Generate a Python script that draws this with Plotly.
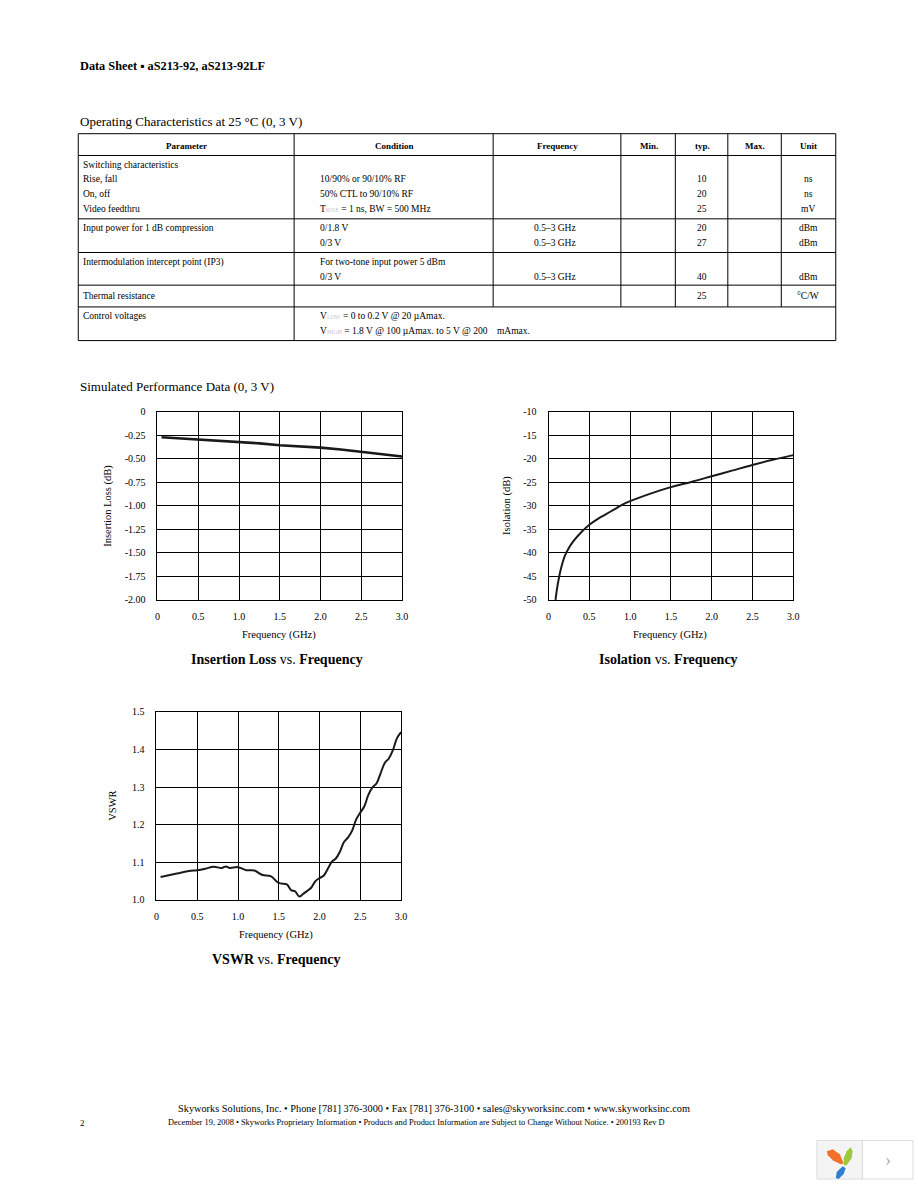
import plotly.graph_objects as go

W, H = 918, 1188
FONT = "Liberation Serif, Times New Roman, serif"


def px(x):
    return x / W


def py(y):
    return 1 - y / H


# ---------------- data ----------------
freq_ticks = [0, 0.5, 1.0, 1.5, 2.0, 2.5, 3.0]
freq_ticktext = ["0", "0.5", "1.0", "1.5", "2.0", "2.5", "3.0"]

il_freq = [0.05, 0.25, 0.5, 0.75, 1.0, 1.25, 1.5, 1.75, 2.0, 2.25, 2.5, 2.75, 3.0]
il_db = [-0.27, -0.28, -0.29, -0.305, -0.32, -0.335, -0.355, -0.365, -0.38, -0.40, -0.425, -0.445, -0.475]
il_ticks = [0, -0.25, -0.5, -0.75, -1.0, -1.25, -1.5, -1.75, -2.0]
il_ticktext = ["0", "-0.25", "-0.50", "-0.75", "-1.00", "-1.25", "-1.50", "-1.75", "-2.00"]

iso_freq = [0.085, 0.1, 0.13, 0.16, 0.2, 0.25, 0.3, 0.4, 0.5, 0.6, 0.7, 0.8, 0.9, 1.0,
            1.25, 1.5, 1.75, 2.0, 2.25, 2.5, 2.75, 3.0]
iso_db = [-50, -48.0, -45, -42.8, -40.6, -38.9, -37.6, -35.6, -34.0, -32.8, -31.8, -30.8, -29.8, -29.0,
          -27.4, -26.0, -24.9, -23.7, -22.5, -21.3, -20.2, -19.2]
iso_ticks = [-10, -15, -20, -25, -30, -35, -40, -45, -50]
iso_ticktext = ["-10", "-15", "-20", "-25", "-30", "-35", "-40", "-45", "-50"]

vswr_freq = [0.05, 0.25, 0.4, 0.5, 0.6, 0.7, 0.8, 0.85, 0.9, 1.0, 1.1, 1.2, 1.3, 1.4, 1.5, 1.6,
             1.65, 1.7, 1.75, 1.8, 1.85, 1.9, 1.95, 2.0, 2.05, 2.1, 2.15, 2.2, 2.25, 2.3, 2.35,
             2.4, 2.45, 2.5, 2.55, 2.6, 2.65, 2.7, 2.75, 2.8, 2.85, 2.9, 2.95, 3.0]
vswr_val = [1.061, 1.07, 1.077, 1.079, 1.083, 1.088, 1.085, 1.089, 1.085, 1.087, 1.079, 1.078,
            1.066, 1.063, 1.045, 1.041, 1.026, 1.023, 1.009, 1.016, 1.024, 1.033, 1.05, 1.058,
            1.064, 1.082, 1.101, 1.11, 1.128, 1.154, 1.166, 1.184, 1.214, 1.232, 1.249, 1.28,
            1.299, 1.31, 1.337, 1.364, 1.376, 1.398, 1.43, 1.446]
vswr_ticks = [1.0, 1.1, 1.2, 1.3, 1.4, 1.5]
vswr_ticktext = ["1.0", "1.1", "1.2", "1.3", "1.4", "1.5"]

# ---------------- table content ----------------
table_headers = ["Parameter", "Condition", "Frequency", "Min.", "typ.", "Max.", "Unit"]
param_lines = ["Switching characteristics", "Rise, fall", "On, off", "Video feedthru",
               "Input power for 1 dB compression", "",
               "Intermodulation intercept point (IP3)", "",
               "Thermal resistance", "Control voltages", ""]
cond_lines = ["", "10/90% or 90/10% RF", "50% CTL to 90/10% RF",
              "T<span style='font-size:6px;color:#c8c8c8'>RISE</span> = 1 ns, BW = 500 MHz",
              "0/1.8 V", "0/3 V",
              "For two-tone input power 5 dBm", "0/3 V",
              "",
              "V<span style='font-size:6px;color:#c8c8c8'>LOW</span> = 0 to 0.2 V @ 20 \u00b5Amax.",
              "V<span style='font-size:6px;color:#c8c8c8'>HIGH</span> = 1.8 V @ 100 \u00b5Amax. to 5 V @ 200&nbsp;&nbsp;&nbsp;&nbsp;mAmax."]
freq_lines = ["", "", "", "", "0.5\u20133 GHz", "0.5\u20133 GHz", "", "0.5\u20133 GHz", "", "", ""]
typ_lines = ["", "10", "20", "25", "20", "27", "", "40", "25", "", ""]
unit_lines = ["", "ns", "ns", "mV", "dBm", "dBm", "", "dBm", "\u00b0C/W", "", ""]
line_y = [161, 175, 190, 205, 224, 239, 259, 274, 293, 313, 328]

fig = go.Figure()

axis_font = dict(family=FONT, size=10, color="black")


def xaxis_cfg(x0, x1, anchor):
    return dict(domain=[px(x0), px(x1)], anchor=anchor, range=[0, 3],
                tickvals=freq_ticks, ticktext=freq_ticktext,
                showline=True, mirror=True, linecolor="black", linewidth=1,
                showgrid=True, gridcolor="black", gridwidth=1, zeroline=False,
                ticks="", tickfont=axis_font, ticklabelstandoff=7, fixedrange=True)


def yaxis_cfg(y0, y1, anchor, rng, tv, tt):
    return dict(domain=[py(y1), py(y0)], anchor=anchor, range=rng,
                tickvals=tv, ticktext=tt,
                showline=True, mirror=True, linecolor="black", linewidth=1,
                showgrid=True, gridcolor="black", gridwidth=1, zeroline=False,
                ticks="", tickfont=axis_font, ticklabelstandoff=9, fixedrange=True)


fig.add_trace(go.Scatter(x=il_freq, y=il_db, mode="lines", line=dict(color="#1a1a1a", width=2.6),
                         xaxis="x", yaxis="y", showlegend=False))
fig.add_trace(go.Scatter(x=iso_freq, y=iso_db, mode="lines", line=dict(color="#1a1a1a", width=2, shape="spline"),
                         xaxis="x2", yaxis="y2", showlegend=False))
fig.add_trace(go.Scatter(x=vswr_freq, y=vswr_val, mode="lines", line=dict(color="#1a1a1a", width=2, shape="spline"),
                         xaxis="x3", yaxis="y3", showlegend=False))

ann = []


def text(x, y, s, size=9.5, xanchor="left", color="black", angle=0, yanchor="middle"):
    ann.append(dict(x=px(x), y=py(y), xref="paper", yref="paper", text=s, showarrow=False,
                    xanchor=xanchor, yanchor=yanchor, textangle=angle,
                    font=dict(family=FONT, size=size, color=color)))


# page header / section titles
text(76, 61, "<b>Data Sheet \u25aa aS213-92, aS213-92LF</b>", size=12.3)
text(76, 117, "Operating Characteristics at 25 \u00b0C (0, 3 V)", size=13)
text(76, 384, "Simulated Performance Data (0, 3 V)", size=13)

# table header
col_centers = [185, 395, 560, 652, 706, 759, 813]
for c, h in zip(col_centers, table_headers):
    text(c, 141, "<b>" + h + "</b>", size=9, xanchor="center")

for i, yy in enumerate(line_y):
    if param_lines[i]:
        text(79, yy, param_lines[i])
    if cond_lines[i]:
        text(318, yy, cond_lines[i])
    if freq_lines[i]:
        text(557, yy, freq_lines[i], xanchor="center")
    if typ_lines[i]:
        text(706, yy, typ_lines[i], xanchor="center")
    if unit_lines[i]:
        text(813, yy, unit_lines[i], xanchor="center")

shapes = []


def hline(x0, x1, y, w=1, color="black"):
    shapes.append(dict(type="line", xref="paper", yref="paper", x0=px(x0), x1=px(x1),
                       y0=py(y), y1=py(y), line=dict(color=color, width=w)))


def vline(x, y0, y1, w=1, color="black"):
    shapes.append(dict(type="line", xref="paper", yref="paper", x0=px(x), x1=px(x),
                       y0=py(y0), y1=py(y1), line=dict(color=color, width=w)))


TL, TR, TT, TB = 76, 841, 129, 338
shapes.append(dict(type="rect", xref="paper", yref="paper", x0=px(TL), x1=px(TR), y0=py(TB), y1=py(TT),
                   line=dict(color="black", width=1)))
for yy in [151, 215, 249, 282, 304]:
    hline(TL, TR, yy)
vline(294, TT, TB)
for xx in [495, 624, 679, 732, 786]:
    vline(xx, TT, 304)

# chart axis titles and captions
text(279, 635, "Frequency (GHz)", size=10.5, xanchor="center")
text(106, 505, "Insertion Loss (dB)", size=10.5, xanchor="center", angle=-90)
text(277, 660, "<b>Insertion Loss</b> vs. <b>Frequency</b>", size=14, xanchor="center")

text(674, 635, "Frequency (GHz)", size=10.5, xanchor="center")
text(509, 505, "Isolation (dB)", size=10.5, xanchor="center", angle=-90)
text(672, 660, "<b>Isolation</b> vs. <b>Frequency</b>", size=14, xanchor="center")

text(276, 938, "Frequency (GHz)", size=10.5, xanchor="center")
text(111, 808, "VSWR", size=10.5, xanchor="center", angle=-90)
text(276, 963, "<b>VSWR</b> vs. <b>Frequency</b>", size=14, xanchor="center")

# footer
text(435, 1114, "Skyworks Solutions, Inc. \u2022 Phone [781] 376-3000 \u2022 Fax [781] 376-3100 \u2022 "
     "sales@skyworksinc.com \u2022 www.skyworksinc.com", size=10.3, xanchor="center")
text(76, 1128, "2", size=9)
text(418, 1128, "December 19, 2008 \u2022 Skyworks Proprietary Information \u2022 Products and Product "
     "Information are Subject to Change Without Notice. \u2022 200193 Rev D", size=8.4, xanchor="center")

# viewer widget in the lower-right corner
shapes.append(dict(type="rect", xref="paper", yref="paper", x0=px(822), x1=px(868), y0=py(1185), y1=py(1146),
                   fillcolor="#f4f4f4", line=dict(color="#dcdcdc", width=1)))
shapes.append(dict(type="rect", xref="paper", yref="paper", x0=px(868), x1=px(919), y0=py(1185), y1=py(1146),
                   fillcolor="#ffffff", line=dict(color="#dcdcdc", width=1)))


def leaf(pts, color):
    path = "M " + " L ".join(f"{px(a):.5f},{py(b):.5f}" for a, b in pts) + " Z"
    shapes.append(dict(type="path", xref="paper", yref="paper", path=path,
                       fillcolor=color, line=dict(width=0)))


leaf([(832, 1157), (838, 1155), (845, 1160), (849, 1169), (846, 1170), (838, 1166), (833, 1161)], "#f0712a")
leaf([(856, 1153), (858, 1157), (857, 1164), (852, 1171), (849, 1171), (849, 1164), (852, 1157)], "#9dc83c")
leaf([(848, 1172), (851, 1174), (849, 1180), (844, 1185), (841, 1184), (842, 1178)], "#2f7fd1")
text(894, 1166, "\u203a", size=18, xanchor="center", color="#b0b0b0")

fig.update_layout(
    width=W, height=H, margin=dict(l=0, r=0, t=0, b=0),
    paper_bgcolor="white", plot_bgcolor="white",
    showlegend=False,
    xaxis=xaxis_cfg(156, 403, "y"),
    yaxis=yaxis_cfg(410, 600, "x", [-2, 0], il_ticks, il_ticktext),
    xaxis2=xaxis_cfg(551, 798, "y2"),
    yaxis2=yaxis_cfg(410, 600, "x2", [-50, -10], iso_ticks, iso_ticktext),
    xaxis3=xaxis_cfg(155, 402, "y3"),
    yaxis3=yaxis_cfg(713, 903, "x3", [1.0, 1.5], vswr_ticks, vswr_ticktext),
    annotations=ann, shapes=shapes,
    font=dict(family=FONT, color="black"),
)

fig.write_html("out.html")
